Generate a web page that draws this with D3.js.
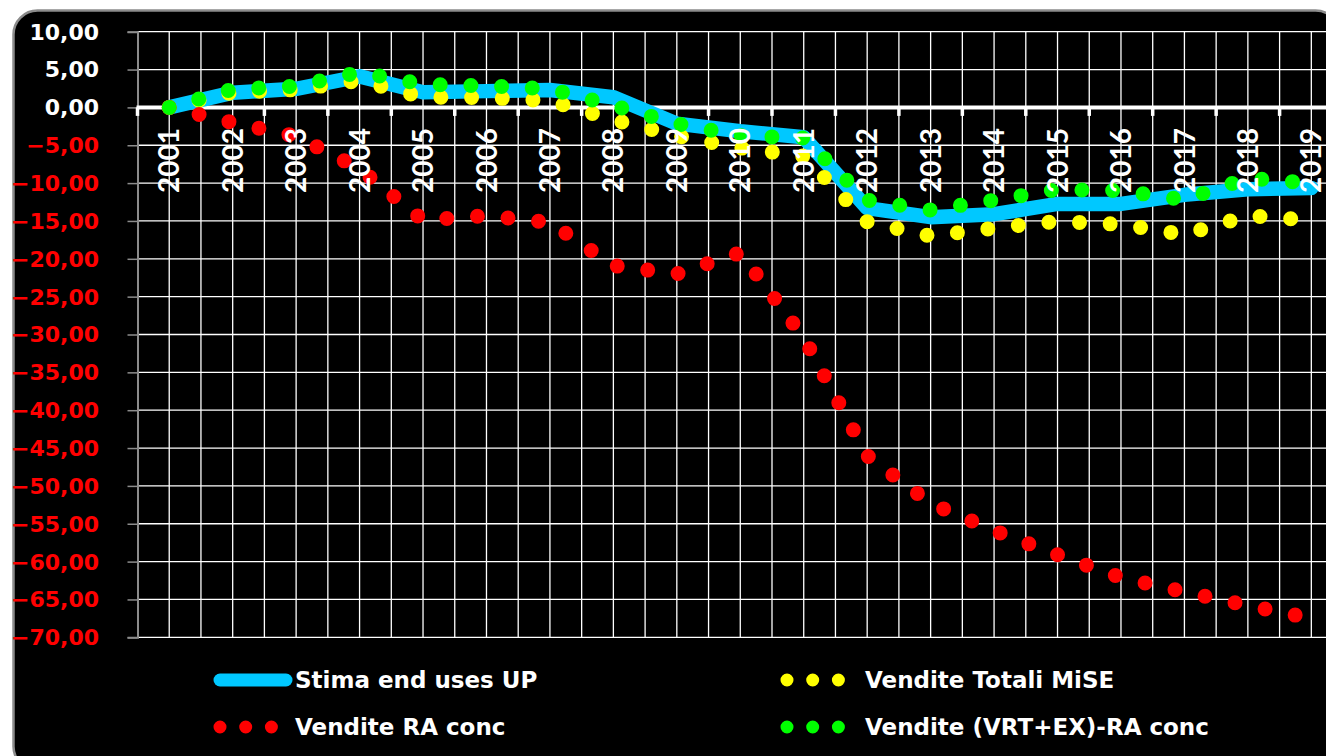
<!DOCTYPE html>
<html><head><meta charset="utf-8">
<script src="https://cdn.jsdelivr.net/npm/d3@7/dist/d3.min.js"></script>
<style>html,body{margin:0;padding:0;background:#fff;overflow:hidden}</style>
</head><body>
<svg id="chart" width="1326" height="756"></svg>
<script>
const years = [2001,2002,2003,2004,2005,2006,2007,2008,2009,2010,2011,2012,2013,2014,2015,2016,2017,2018,2019];
const stimaEndUsesUP   = [0, 1.95, 2.45, 4.1, 2.0, 2.15, 2.3, 1.35, -2.15, -3.15, -3.95, -13.3, -14.5, -14.1, -12.75, -12.75, -11.55, -10.8, -10.65];
const venditeTotaliMiSE = [0, 2.0, 2.35, 3.55, 1.35, 1.3, 0.88, -1.65, -3.75, -5.35, -6.45, -15.1, -17.0, -15.95, -15.05, -15.45, -16.8, -14.3, -14.9];
const venditeRAConc     = [0, -2.0, -3.8, -8.1, -14.9, -14.3, -15.2, -20.9, -22.0, -19.2, -30.4, -46.0, -52.3, -55.9, -59.1, -62.1, -64.0, -65.8, -67.5];
const venditeVRTEXRA    = [0, 2.4, 2.8, 4.65, 3.05, 2.85, 2.45, 0.25, -2.15, -3.75, -4.05, -12.25, -13.55, -12.25, -10.85, -11.0, -12.2, -9.35, -10.0];
const yTickValues = [10,5,0,-5,-10,-15,-20,-25,-30,-35,-40,-45,-50,-55,-60,-65,-70];
const seriesNames = ["Stima end uses UP","Vendite Totali MiSE","Vendite RA conc","Vendite (VRT+EX)-RA conc"];
const seriesColors = ["#00c8ff","#ffff00","#ff0000","#00ff00"];

const svg = d3.select("#chart");
const L = 137.5, T = 31.7, B = 637.3, band = 63.45;
const x = d3.scaleBand().domain(years).range([L, L + band*years.length]).paddingInner(0).paddingOuter(0);
const xc = d => x(d) + x.bandwidth()/2;
const y = d3.scaleLinear().domain([-70,10]).range([B, T]);
const R = L + band*years.length;

// card
svg.append("rect").attr("x",0).attr("y",0).attr("width",1326).attr("height",756).attr("fill","#fff");
svg.append("rect").attr("x",13.5).attr("y",10.5).attr("width",1326).attr("height",760)
  .attr("rx",24).attr("fill","#000").attr("stroke","#8c8c8c").attr("stroke-width",2.5);

// gridlines
const g = svg.append("g");
g.selectAll("line.h").data(yTickValues).join("line")
  .attr("x1",L).attr("x2",R).attr("y1",d=>y(d)).attr("y2",d=>y(d))
  .attr("stroke","#fff").attr("stroke-width",1.3);
const vx = [];
years.forEach(yr => { vx.push(x(yr)); vx.push(xc(yr)); });
vx.push(R);
g.selectAll("line.v").data(vx.slice(1)).join("line")
  .attr("x1",d=>d).attr("x2",d=>d).attr("y1",T).attr("y2",B)
  .attr("stroke","#fff").attr("stroke-width",1.3);

// y axis
const yAxis = d3.axisLeft(y).tickValues(yTickValues).tickSize(10).tickFormat("");
const ya = svg.append("g").attr("transform",`translate(${L},0)`).call(yAxis);
ya.select(".domain").attr("stroke","#8c8c8c").attr("stroke-width",2);
ya.selectAll(".tick line").attr("stroke","#8c8c8c").attr("stroke-width",1.5);
const fmt = d => d3.format(".2f")(d).replace(".",",");
svg.append("g").selectAll("text").data(yTickValues).join("text")
  .attr("x",99).attr("y",d=>y(d)).attr("dy","0.36em").attr("text-anchor","end")
  .attr("font-family","'DejaVu Sans', sans-serif").attr("font-weight","bold").attr("font-size",22)
  .attr("fill",d=> d<0 ? "#ff0000" : "#ffffff").text(fmt);

// x axis (zero line) with ticks at category boundaries
const y0 = y(0);
svg.append("line").attr("x1",L-1).attr("x2",R).attr("y1",y0).attr("y2",y0)
  .attr("stroke","#fff").attr("stroke-width",4);
const bounds = years.map(yr => x(yr)).concat([R]);
svg.append("g").selectAll("line").data(bounds).join("line")
  .attr("x1",d=>d).attr("x2",d=>d).attr("y1",y0).attr("y2",y0+8.5)
  .attr("stroke","#fff").attr("stroke-width",3.5);

// series
const line = d3.line().x((d,i)=>xc(years[i])).y(d=>y(d));
const sg = svg.append("g").attr("fill","none");
sg.append("path").datum(stimaEndUsesUP).attr("d",line)
  .attr("stroke",seriesColors[0]).attr("stroke-width",14.5)
  .attr("stroke-linejoin","round").attr("stroke-linecap","round");
[[venditeTotaliMiSE,1],[venditeRAConc,2],[venditeVRTEXRA,3]].forEach(([data,k])=>{
  sg.append("path").datum(data).attr("d",line)
    .attr("stroke",seriesColors[k]).attr("stroke-width",15)
    .attr("stroke-linecap","round").attr("stroke-linejoin","round")
    .attr("stroke-dasharray","0 30.7");
});

// x labels
svg.append("g").selectAll("text").data(years).join("text")
  .attr("transform",d=>`translate(${xc(d)},128) rotate(-90)`)
  .attr("text-anchor","end").attr("dy","0.36em")
  .attr("font-family","Lato, sans-serif").attr("font-weight","bold").attr("font-size",28)
  .attr("fill","#fff").text(d=>d);

// legend
const lg = svg.append("g");
const rows = [680, 727];
const leg = [
  {name:seriesNames[0], color:seriesColors[0], sx:220, tx:295, row:0, solid:true},
  {name:seriesNames[1], color:seriesColors[1], sx:787, tx:865, row:0},
  {name:seriesNames[2], color:seriesColors[2], sx:220, tx:295, row:1},
  {name:seriesNames[3], color:seriesColors[3], sx:787, tx:865, row:1}
];
leg.forEach(o=>{
  const yy = rows[o.row];
  if (o.solid) {
    lg.append("line").attr("x1",o.sx).attr("x2",o.sx+66).attr("y1",yy).attr("y2",yy)
      .attr("stroke",o.color).attr("stroke-width",13).attr("stroke-linecap","round");
  } else {
    lg.append("line").attr("x1",o.sx).attr("x2",o.sx+52).attr("y1",yy).attr("y2",yy)
      .attr("stroke",o.color).attr("stroke-width",13).attr("stroke-linecap","round")
      .attr("stroke-dasharray","0 25.7");
  }
  lg.append("text").attr("x",o.tx).attr("y",yy).attr("dy","0.36em")
    .attr("font-family","'DejaVu Sans', sans-serif").attr("font-weight","bold").attr("font-size",23)
    .attr("fill","#fff").text(o.name);
});
</script>
</body></html>
